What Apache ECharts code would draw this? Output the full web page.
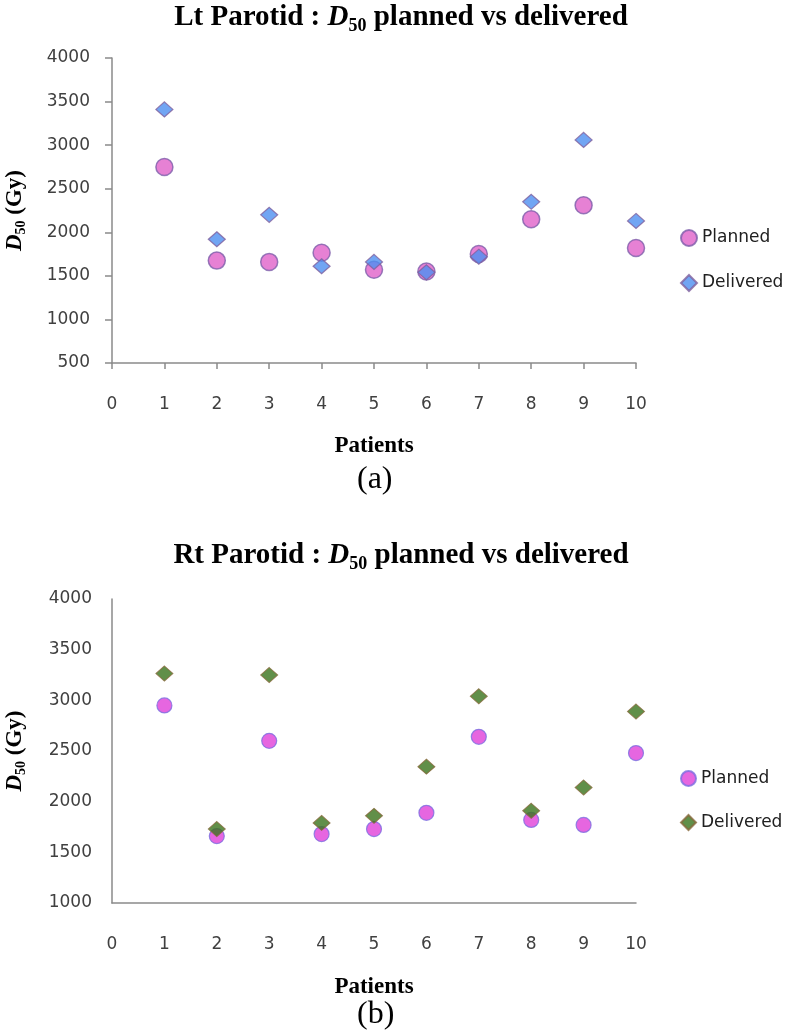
<!DOCTYPE html>
<html>
<head>
<meta charset="utf-8">
<script src="https://cdn.jsdelivr.net/npm/echarts@6/dist/echarts.min.js"></script>
<style>
html,body{margin:0;padding:0;background:#fff;}
#c{width:797px;height:1034px;}
</style>
</head>
<body>
<div id="c"></div>
<script>
const patients = [1, 2, 3, 4, 5, 6, 7, 8, 9, 10];
const ltPlanned   = [2750, 1675, 1660, 1765, 1570, 1550, 1750, 2150, 2310, 1820];
const ltDelivered = [3410, 1920, 2200, 1610, 1660, 1540, 1720, 2350, 3060, 2130];
const rtPlanned   = [2950, 1660, 2600, 1680, 1730, 1890, 2640, 1820, 1770, 2480];
const rtDelivered = [3265, 1730, 3250, 1790, 1860, 2345, 3040, 1910, 2140, 2890];
const seriesNames = ['Planned', 'Delivered'];
const panelLabels = ['(a)', '(b)'];

const pair = (ys) => patients.map((p, i) => [p, ys[i]]);

const serif = "'Liberation Serif','Times New Roman',serif";
const sans = "'DejaVu Sans',Verdana,sans-serif";

const titleRich = {
  b: {fontFamily: serif, fontWeight: 'bold', fontSize: 29, color: '#000', lineHeight: 34},
  i: {fontFamily: serif, fontWeight: 'bold', fontStyle: 'italic', fontSize: 29, color: '#000', lineHeight: 34},
  s: {fontFamily: serif, fontWeight: 'bold', fontSize: 18, color: '#000', lineHeight: 34, verticalAlign: 'bottom', padding: [12, 0, 0, 0]}
};
const yNameRich = {
  b: {fontFamily: serif, fontWeight: 'bold', fontSize: 23, color: '#000', lineHeight: 26},
  i: {fontFamily: serif, fontWeight: 'bold', fontStyle: 'italic', fontSize: 23, color: '#000', lineHeight: 26},
  s: {fontFamily: serif, fontWeight: 'bold', fontSize: 14, color: '#000', lineHeight: 26, verticalAlign: 'bottom', padding: [9, 0, 0, 0]}
};

function xAxisCfg(gridIndex, ticks, gap) {
  return {
    type: 'value', gridIndex, min: 0, max: 10, interval: 1,
    name: 'Patients', nameLocation: 'middle', nameGap: gap,
    nameTextStyle: {fontFamily: serif, fontWeight: 'bold', fontSize: 23, color: '#000'},
    axisLine: {show: true, onZero: false, lineStyle: {color: '#8a8a8a', width: 1.5}},
    axisTick: {show: ticks, length: 6, lineStyle: {color: '#8a8a8a', width: 1.5}},
    axisLabel: {fontFamily: sans, fontSize: 17, color: '#404040', margin: 33, formatter: (v) => String(v)},
    splitLine: {show: false}
  };
}
function yAxisCfg(gridIndex, min, ticks) {
  return {
    type: 'value', gridIndex, min, max: 4000, interval: 500,
    name: '{i|D}{s|50}{b| (Gy)}', nameLocation: 'middle', nameGap: 84, nameRotate: 90,
    nameTextStyle: {rich: yNameRich},
    axisLine: {show: true, lineStyle: {color: '#8a8a8a', width: 1.5}},
    axisTick: {show: ticks, length: 7, lineStyle: {color: '#8a8a8a', width: 1.5}},
    axisLabel: {fontFamily: sans, fontSize: 17, color: '#404040', margin: ticks ? 22 : 20, formatter: (v) => String(v)},
    splitLine: {show: false}
  };
}

const styles = {
  ltP: {color: '#e062c9', borderColor: '#7d5eaa', borderWidth: 1.5},
  ltD: {color: '#4d8ef0', borderColor: '#80609e', borderWidth: 1.2},
  rtP: {color: '#e040d8', borderColor: '#7a6ee0', borderWidth: 1.2},
  rtD: {color: '#3a731c', borderColor: '#86683a', borderWidth: 1}
};

const option = {
  animation: false,
  backgroundColor: '#fff',
  title: [
    {text: '{b|Lt Parotid : }{i|D}{s|50}{b| planned vs delivered}', left: 396, textAlign: 'center', top: -4,
     textStyle: {rich: titleRich}},
    {text: '{b|Rt Parotid : }{i|D}{s|50}{b| planned vs delivered}', left: 396, textAlign: 'center', top: 534,
     textStyle: {rich: titleRich}}
  ],
  grid: [
    {left: 112, top: 58, width: 524, height: 305, containLabel: false, outerBoundsMode: 'none'},
    {left: 112, top: 599, width: 524, height: 304, containLabel: false, outerBoundsMode: 'none'}
  ],
  xAxis: [xAxisCfg(0, true, 72), xAxisCfg(1, false, 73)],
  yAxis: [yAxisCfg(0, 500, true), yAxisCfg(1, 1000, false)],
  legend: [
    {orient: 'vertical', left: 675, top: 224, itemWidth: 16, itemHeight: 16, itemGap: 27,
     textStyle: {fontFamily: sans, fontSize: 17, color: '#202020'},
     data: [{name: seriesNames[0], icon: 'circle'}, {name: seriesNames[1], icon: 'diamond'}]}
  ],
  graphic: [
    {type: 'text', left: 357, top: 464, style: {text: panelLabels[0], font: '32px ' + serif, fill: '#000'}},
    {type: 'text', left: 357, top: 999, style: {text: panelLabels[1], font: '32px ' + serif, fill: '#000'}}
  ],
  series: [
    {name: seriesNames[0], type: 'scatter', xAxisIndex: 0, yAxisIndex: 0, symbol: 'circle', symbolSize: 17,
     itemStyle: styles.ltP, data: pair(ltPlanned)},
    {name: seriesNames[1], type: 'scatter', xAxisIndex: 0, yAxisIndex: 0, symbol: 'diamond', symbolSize: [17, 15],
     itemStyle: styles.ltD, data: pair(ltDelivered)},
    {name: 'rtP', type: 'scatter', xAxisIndex: 1, yAxisIndex: 1, symbol: 'circle', symbolSize: 15,
     itemStyle: styles.rtP, data: pair(rtPlanned)},
    {name: 'rtD', type: 'scatter', xAxisIndex: 1, yAxisIndex: 1, symbol: 'diamond', symbolSize: [17, 15],
     itemStyle: styles.rtD, data: pair(rtDelivered)}
  ]
};

// second legend for the bottom panel, with the same names but its own marker styles
option.legend.push({
  orient: 'vertical', left: 675, top: 765, itemWidth: 15, itemHeight: 15, itemGap: 27,
  textStyle: {fontFamily: sans, fontSize: 17, color: '#202020'},
  data: [{name: 'rtP', icon: 'circle'}, {name: 'rtD', icon: 'diamond'}],
  formatter: (n) => n === 'rtP' ? seriesNames[0] : seriesNames[1]
});

const chart = echarts.init(document.getElementById('c'), null, {renderer: 'canvas'});
chart.setOption(option);
</script>
</body>
</html>
